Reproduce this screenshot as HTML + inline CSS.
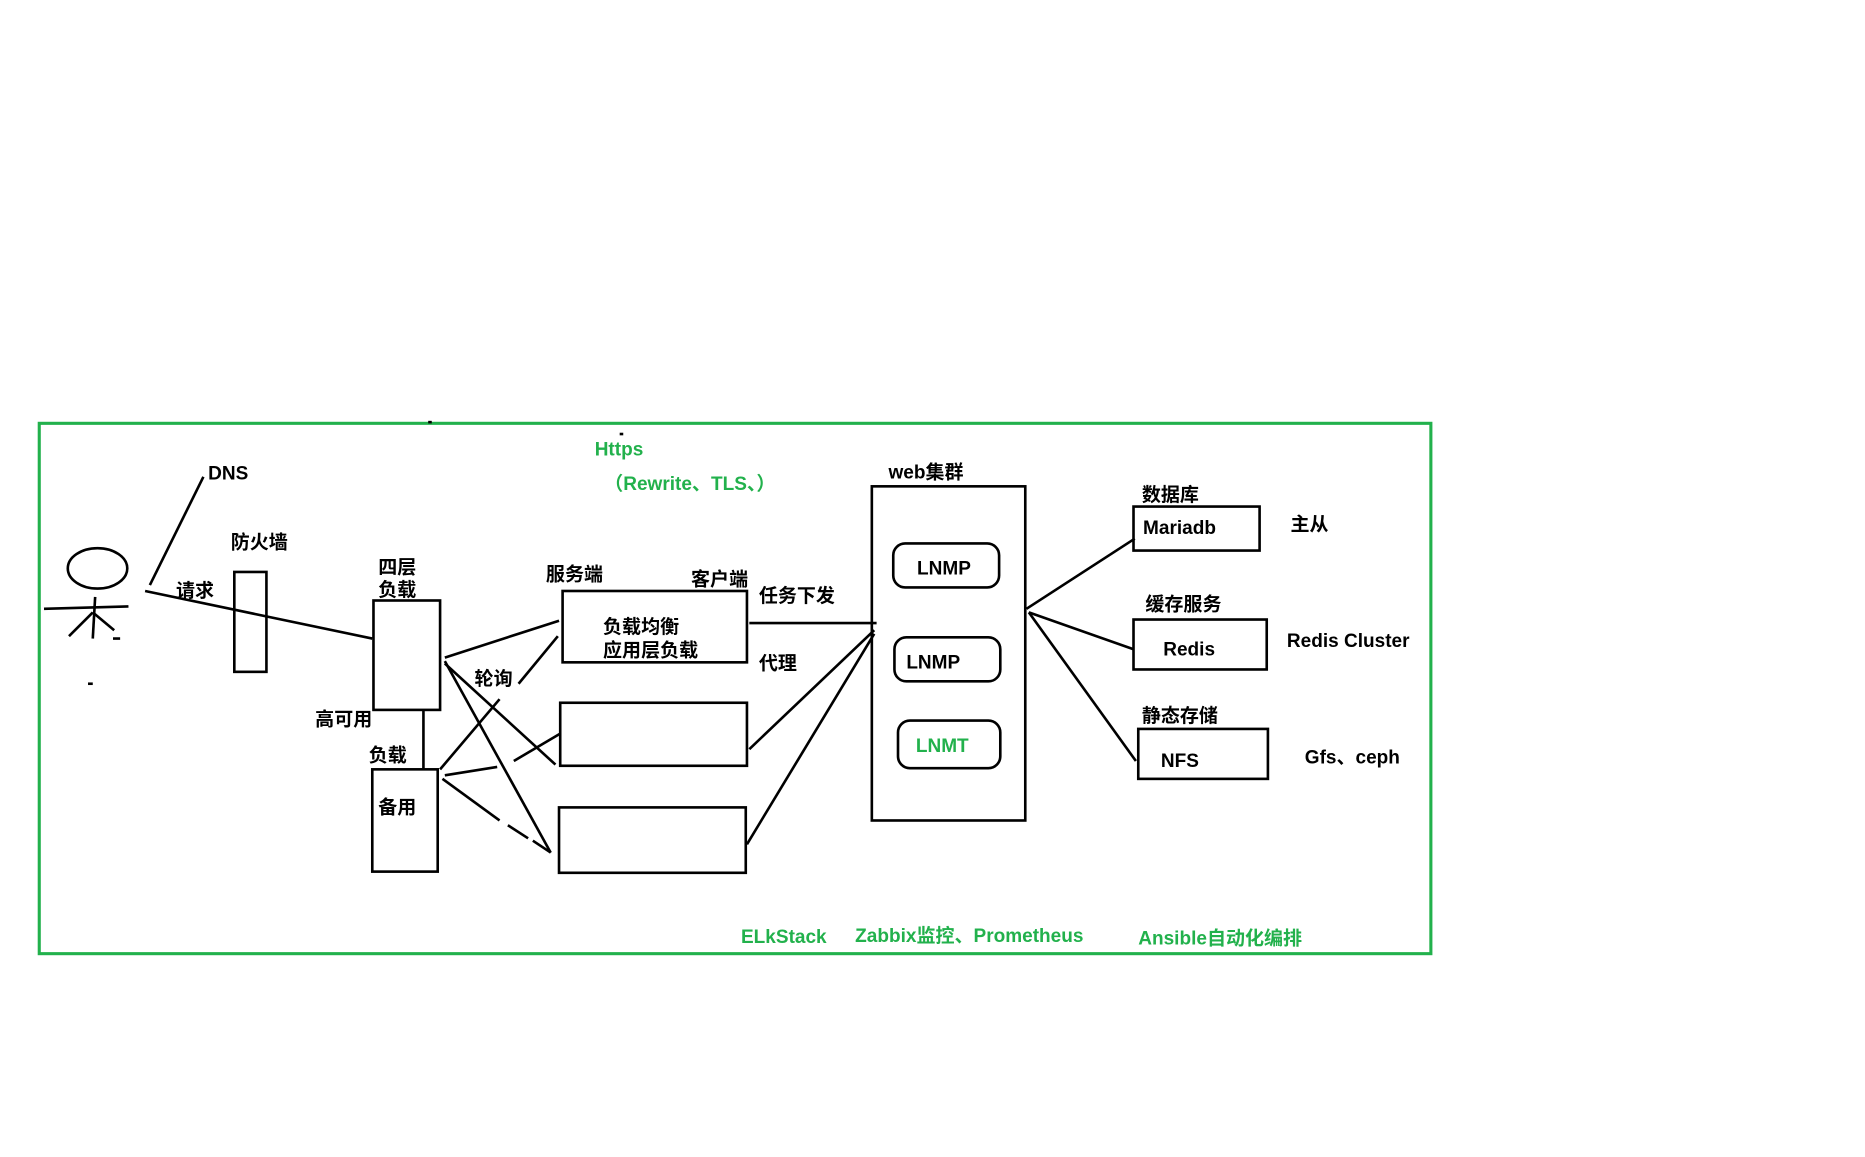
<!DOCTYPE html>
<html><head><meta charset="utf-8"><style>
html,body{margin:0;padding:0;background:#fff;}
svg{display:block;}
text{font-family:"Liberation Sans","Noto Sans CJK SC",sans-serif;font-weight:bold;font-size:16px;dominant-baseline:middle;fill:#000;}
.g{fill:#22b14c;}
</style></head><body>
<svg width="1865" height="1157" viewBox="0 0 1568 973" preserveAspectRatio="none" xmlns="http://www.w3.org/2000/svg">
<g fill="none" stroke="#000" stroke-width="2.2">
<rect x="33" y="356" width="1170" height="446" stroke="#22b14c" stroke-width="2.6"/>
<ellipse cx="82" cy="478" rx="25" ry="17"/>
<line x1="37" y1="512" x2="108" y2="510"/>
<line x1="80" y1="502" x2="78" y2="537"/>
<line x1="58" y1="535" x2="78" y2="515"/>
<line x1="78" y1="515" x2="96" y2="530"/>
<line x1="95" y1="537" x2="101" y2="537"/>
<line x1="74" y1="575" x2="78" y2="575"/>
<line x1="360" y1="355" x2="363" y2="355"/>
<line x1="521" y1="365" x2="524" y2="365"/>
<line x1="126" y1="492" x2="171" y2="401"/>
<line x1="122" y1="497" x2="313" y2="537"/>
<rect x="197" y="481" width="27" height="84"/>
<rect x="314" y="505" width="56" height="92"/>
<line x1="356" y1="597" x2="356" y2="647"/>
<rect x="313" y="647" width="55" height="86"/>
<rect x="473" y="497" width="155" height="60"/>
<rect x="471" y="591" width="157" height="53"/>
<rect x="470" y="679" width="157" height="55"/>
<line x1="374" y1="553" x2="470" y2="522"/>
<line x1="374" y1="558" x2="467" y2="643"/>
<line x1="374" y1="556" x2="463" y2="717"/>
<line x1="436" y1="575" x2="469" y2="535"/>
<line x1="370" y1="647" x2="420" y2="588"/>
<line x1="374" y1="652" x2="418" y2="645"/>
<line x1="432" y1="640" x2="471" y2="617"/>
<line x1="372" y1="655" x2="420" y2="690"/>
<line x1="427" y1="694" x2="444" y2="705"/>
<line x1="448" y1="707" x2="463" y2="717"/>
<line x1="630" y1="524" x2="737" y2="524"/>
<line x1="735" y1="530" x2="630" y2="630"/>
<line x1="735" y1="533" x2="628" y2="710"/>
<rect x="733" y="409" width="129" height="281"/>
<rect x="751" y="457" width="89" height="37" rx="10"/>
<rect x="752" y="536" width="89" height="37" rx="10"/>
<rect x="755" y="606" width="86" height="40" rx="10"/>
<line x1="863" y1="512" x2="954" y2="453"/>
<line x1="865" y1="515" x2="953" y2="546"/>
<line x1="865" y1="515" x2="955" y2="640"/>
<rect x="953" y="426" width="106" height="37"/>
<rect x="953" y="521" width="112" height="42"/>
<rect x="957" y="613" width="109" height="42"/>
</g>
<text x="175" y="399">DNS</text>
<text x="148" y="498">请求</text>
<text x="194" y="457">防火墙</text>
<text x="318" y="478">四层</text>
<text x="318" y="497">负载</text>
<text x="265" y="606">高可用</text>
<text x="310" y="636">负载</text>
<text x="318" y="680">备用</text>
<text x="459" y="484">服务端</text>
<text x="581" y="488">客户端</text>
<text x="507" y="528">负载均衡</text>
<text x="507" y="548">应用层负载</text>
<text x="399" y="572">轮询</text>
<text x="638" y="502">任务下发</text>
<text x="638" y="559">代理</text>
<text x="747" y="398">web集群</text>
<text x="771" y="479">LNMP</text>
<text x="762" y="558">LNMP</text>
<text x="770" y="628" class="g">LNMT</text>
<text x="960" y="417">数据库</text>
<text x="961" y="445">Mariadb</text>
<text x="1085" y="442">主从</text>
<text x="963" y="509">缓存服务</text>
<text x="978" y="547">Redis</text>
<text x="1082" y="540">Redis Cluster</text>
<text x="960" y="603">静态存储</text>
<text x="976" y="641">NFS</text>
<text x="1097" y="638">Gfs、ceph</text>
<text x="500" y="379" class="g">Https</text>
<text x="508" y="408" class="g">（Rewrite、TLS、）</text>
<text x="623" y="789" class="g">ELkStack</text>
<text x="719" y="788" class="g">Zabbix监控、Prometheus</text>
<text x="957" y="790" class="g">Ansible自动化编排</text>
</svg>
</body></html>
